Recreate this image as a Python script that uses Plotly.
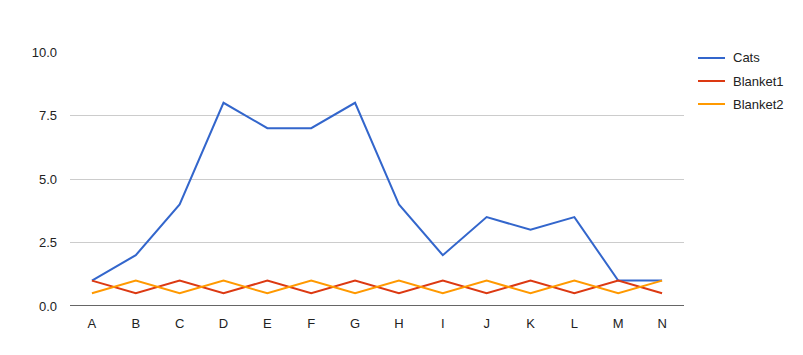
import plotly.graph_objects as go

categories = ["A", "B", "C", "D", "E", "F", "G", "H", "I", "J", "K", "L", "M", "N"]
cats = [1, 2, 4, 8, 7, 7, 8, 4, 2, 3.5, 3, 3.5, 1, 1]
blanket1 = [1, 0.5, 1, 0.5, 1, 0.5, 1, 0.5, 1, 0.5, 1, 0.5, 1, 0.5]
blanket2 = [0.5, 1, 0.5, 1, 0.5, 1, 0.5, 1, 0.5, 1, 0.5, 1, 0.5, 1]
series_names = ["Cats", "Blanket1", "Blanket2"]
series_colors = ["#3366CC", "#DC3912", "#FF9900"]
y_ticks = [0, 2.5, 5, 7.5, 10]
y_tick_labels = ["0.0", "2.5", "5.0", "7.5", "10.0"]

W, H = 803, 355
L, R, T, B = 70, 119, 52, 49
PW, PH = W - L - R, H - T - B

fig = go.Figure()
for name, vals, color in zip(series_names, [cats, blanket1, blanket2], series_colors):
    fig.add_trace(go.Scatter(x=categories, y=vals, name=name, mode="lines",
                             line=dict(color=color, width=2), showlegend=False))

fig.update_layout(
    width=W, height=H,
    margin=dict(l=L, r=R, t=T, b=B),
    paper_bgcolor="white", plot_bgcolor="white",
    font=dict(family="Liberation Sans, Arial, sans-serif", size=13, color="#222222"),
    showlegend=False,
    xaxis=dict(type="category", range=[-0.5, 13.5], showgrid=False, showline=False, zeroline=False,
               ticks="", tickfont=dict(size=13), ticklabelstandoff=8),
    yaxis=dict(range=[0, 10], tickvals=y_ticks, ticktext=y_tick_labels, showgrid=True,
               gridcolor="#CCCCCC", gridwidth=1, zeroline=False, showline=False, ticks="",
               tickfont=dict(size=13), ticklabelstandoff=12),
)
fig.add_shape(type="line", xref="paper", yref="y", x0=0, x1=1, y0=0, y1=0,
              line=dict(color="#333333", width=1.5))

# legend drawn at fixed pixel positions
def px_x(px):
    return (px - L) / PW
def px_y(py):
    return (H - B - py) / PH

for i, (name, color) in enumerate(zip(series_names, series_colors)):
    yy = 58 + 23 * i
    fig.add_shape(type="line", xref="paper", yref="paper",
                  x0=px_x(698), x1=px_x(725), y0=px_y(yy), y1=px_y(yy),
                  line=dict(color=color, width=2))
    fig.add_annotation(xref="paper", yref="paper", x=px_x(731), y=px_y(yy),
                       text=name, showarrow=False, xanchor="left", yanchor="middle",
                       font=dict(size=13, color="#222222"))

fig.write_html("out.html")
